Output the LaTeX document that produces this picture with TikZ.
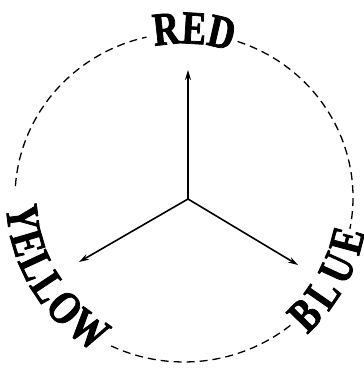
\documentclass[tikz,border=0pt]{standalone}
\usepackage{fontspec}
\newfontfamily\lblfont[FakeStretch=0.78,FakeBold=1.6]{Liberation Serif}
\newcommand\lblsize{\lblfont\bfseries\fontsize{47pt}{47pt}\selectfont}
\usetikzlibrary{decorations.text,arrows.meta}
\tikzset{
  ring/.style={dash pattern=on 8pt off 5pt, line width=1.3pt},
  spoke/.style={line width=1.6pt, -{Stealth[length=10pt,width=6pt]}},
  arclabel/.style={decorate, decoration={text along path, text align=fit to path, text={|\lblsize|#1}}}
}
\begin{document}
\begin{tikzpicture}[x=1pt,y=1pt]
\useasboundingbox (0,0) rectangle (364,373);
\coordinate (c) at (184,175.5);
% dashed ring pieces
\draw[ring, shift={(c)}] (71.5:169 and 164.5) arc[start angle=71.5, end angle=-11, x radius=169, y radius=164.5];
\draw[ring, shift={(c)}] (-51:169 and 164.5) arc[start angle=-51, end angle=-115.5, x radius=169, y radius=164.5];
\draw[ring, shift={(c)}] (176:169 and 164.5) arc[start angle=176, end angle=102.8, x radius=169, y radius=164.5];
% labels along the ring
\path[arclabel=RED, shift={(c)}] (101:154) arc[start angle=101, end angle=74, radius=154];
\path[arclabel=YELLOW, shift={(c)}] (183:178) arc[start angle=183, end angle=240, radius=178];
\path[arclabel=BLUE, shift={(c)}] (-48:184) arc[start angle=-48, end angle=-11, radius=184];
% spokes
\coordinate (o) at (188,174);
\coordinate (tred) at (188,303);
\coordinate (tyel) at (79,111);
\coordinate (tblu) at (298,108);
\draw[spoke] (o) -- (tred);
\draw[spoke] (o) -- (tyel);
\draw[spoke] (o) -- (tblu);
\end{tikzpicture}
\end{document}
